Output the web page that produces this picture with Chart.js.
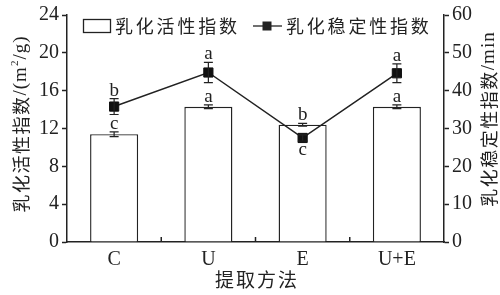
<!DOCTYPE html>
<html>
<head>
<meta charset="utf-8">
<script src="https://cdn.jsdelivr.net/npm/chart.js@4.4.1/dist/chart.umd.min.js"></script>
<style>
  html, body { margin: 0; padding: 0; background: #fff; }
  #wrap { width: 500px; height: 295px; }
</style>
</head>
<body>
<div id="wrap"><canvas id="chart"></canvas></div>
<script>
// --- data ---
const categories = ["C", "U", "E", "U+E"];
const activityIndex = [11.4, 14.3, 12.4, 14.3];      // m2/g, left axis
const activityErr = [0.25, 0.2, 0.15, 0.2];
const activityLetters = ["c", "a", "b", "a"];
const stabilityIndex = [35.8, 44.8, 27.5, 44.6];     // min, right axis
const stabilityErr = [2.1, 2.7, 0.8, 2.5];
const stabilityLetters = ["b", "a", "c", "a"];
const leftTicks = [0, 4, 8, 12, 16, 20, 24];
const rightTicks = [0, 10, 20, 30, 40, 50, 60];

const INK = "#222";
const SERIF = "'Liberation Serif', 'DejaVu Serif', serif";
const CJK = "'Noto Sans CJK SC', sans-serif";

// draw a run of text pieces with per-piece font and letter spacing
function drawRun(ctx, parts, x, y, center) {
    const widths = parts.map((p) => {
        ctx.font = p.font;
        let w = 0;
        for (const ch of p.text) {
            w += ctx.measureText(ch).width + (p.spacing || 0);
        }
        return w;
    });
    const total = widths.reduce((a, b) => a + b, 0);
    let cx = center ? x - total / 2 : x;
    parts.forEach((p) => {
        ctx.font = p.font;
        for (const ch of p.text) {
            ctx.fillText(ch, cx, y + (p.dy || 0));
            cx += ctx.measureText(ch).width + (p.spacing || 0);
        }
    });
}

const extrasPlugin = {
    id: "extras",
    afterDatasetsDraw(chart) {
        const { ctx, chartArea, scales } = chart;
        const x = scales.x;
        const yL = scales.y;
        const yR = scales.y1;
        const barMeta = chart.getDatasetMeta(0);
        const lineMeta = chart.getDatasetMeta(1);
        ctx.save();
        ctx.strokeStyle = INK;
        ctx.fillStyle = INK;
        ctx.lineWidth = 1.2;

        const errBar = (px, scale, v, e, cap) => {
            const t = scale.getPixelForValue(v + e);
            const b = scale.getPixelForValue(v - e);
            ctx.beginPath();
            ctx.moveTo(px, t); ctx.lineTo(px, b);
            ctx.moveTo(px - cap, t); ctx.lineTo(px + cap, t);
            ctx.moveTo(px - cap, b); ctx.lineTo(px + cap, b);
            ctx.stroke();
            return { t, b };
        };

        // error bars and significance letters
        ctx.font = "19px " + SERIF;
        ctx.textAlign = "center";
        ctx.textBaseline = "alphabetic";
        categories.forEach((c, i) => {
            const bx = barMeta.data[i].x;
            const eb = errBar(bx, yL, activityIndex[i], activityErr[i], 4.5);
            ctx.fillText(activityLetters[i], bx, eb.t - 3);

            const lx = lineMeta.data[i].x;
            const el = errBar(lx, yR, stabilityIndex[i], stabilityErr[i], 4.5);
            if (i === 2) {
                ctx.fillText(stabilityLetters[i], lx, lineMeta.data[i].y + 17);
            } else {
                ctx.fillText(stabilityLetters[i], lx, el.t - 3);
            }
        });

        // inner ticks on the category axis, at category boundaries
        ctx.lineWidth = 1.5;
        ctx.beginPath();
        for (let i = 0; i < categories.length - 1; i++) {
            const px = (x.getPixelForValue(i) + x.getPixelForValue(i + 1)) / 2;
            ctx.moveTo(px, chartArea.bottom);
            ctx.lineTo(px, chartArea.bottom - 5);
        }
        ctx.stroke();

        // legend
        ctx.lineWidth = 1.3;
        ctx.fillStyle = "#fff";
        ctx.fillRect(83.5, 19.5, 27, 13);
        ctx.strokeRect(83.5, 19.5, 27, 13);
        ctx.fillStyle = INK;
        ctx.textAlign = "left";
        ctx.textBaseline = "middle";
        drawRun(ctx, [{ text: "乳化活性指数", font: "18px " + CJK, spacing: 2.8 }], 115, 26, false);
        ctx.beginPath();
        ctx.moveTo(253, 26); ctx.lineTo(282, 26);
        ctx.stroke();
        ctx.fillRect(262.5, 21.5, 9, 9);
        drawRun(ctx, [{ text: "乳化稳定性指数", font: "18px " + CJK, spacing: 2.8 }], 286, 26, false);

        // axis titles
        ctx.save();
        ctx.translate(21, 124);
        ctx.rotate(-Math.PI / 2);
        drawRun(ctx, [
            { text: "乳化活性指数", font: "18px " + CJK, spacing: 1.5 },
            { text: "/(m", font: "19px " + SERIF, spacing: 1 },
            { text: "2", font: "11px " + SERIF, spacing: 1, dy: -6 },
            { text: "/g)", font: "19px " + SERIF, spacing: 1 },
        ], 0, 0, true);
        ctx.restore();

        ctx.save();
        ctx.translate(489, 119);
        ctx.rotate(-Math.PI / 2);
        drawRun(ctx, [
            { text: "乳化稳定性指数", font: "18px " + CJK, spacing: 1.5 },
            { text: "/min", font: "19px " + SERIF, spacing: 1 },
        ], 0, 0, true);
        ctx.restore();

        drawRun(ctx, [{ text: "提取方法", font: "19px " + CJK, spacing: 2 }], 257, 280, true);
        ctx.restore();
    },
};

const axisStyle = {
    grid: { drawOnChartArea: false, tickLength: 5, color: INK, tickWidth: 1.5 },
    border: { display: true, color: INK, width: 1.5 },
};

new Chart(document.getElementById("chart"), {
    data: {
        labels: categories,
        datasets: [
            {
                type: "bar",
                label: "乳化活性指数",
                data: activityIndex,
                yAxisID: "y",
                backgroundColor: "#fff",
                borderColor: INK,
                borderWidth: 1.4,
                barPercentage: 0.51,
                categoryPercentage: 1,
                order: 1,
            },
            {
                type: "line",
                label: "乳化稳定性指数",
                data: stabilityIndex,
                yAxisID: "y1",
                borderColor: INK,
                borderWidth: 1.5,
                pointStyle: "rect",
                pointRadius: 6.5,
                pointBackgroundColor: "#111",
                pointBorderColor: "#111",
                pointBorderWidth: 1,
                tension: 0,
                order: 0,
            },
        ],
    },
    options: {
        responsive: true,
        maintainAspectRatio: false,
        animation: false,
        layout: { padding: { top: 15, left: 0, right: 0, bottom: 0 } },
        plugins: { legend: { display: false }, tooltip: { enabled: false } },
        scales: {
            x: {
                grid: { display: false, drawTicks: false },
                border: { display: true, color: INK, width: 1.5 },
                ticks: { color: INK, font: { family: SERIF, size: 20 }, padding: 6 },
                afterFit: (s) => { s.height = 53; },
            },
            y: {
                position: "left",
                min: 0,
                max: 24,
                afterBuildTicks: (s) => { s.ticks = leftTicks.map((v) => ({ value: v })); },
                ticks: { color: INK, font: { family: SERIF, size: 20 }, padding: 3 },
                afterFit: (s) => { s.width = 67; },
                ...axisStyle,
            },
            y1: {
                position: "right",
                min: 0,
                max: 60,
                afterBuildTicks: (s) => { s.ticks = rightTicks.map((v) => ({ value: v })); },
                ticks: { color: INK, font: { family: SERIF, size: 20 }, padding: 3 },
                afterFit: (s) => { s.width = 56; },
                ...axisStyle,
            },
        },
    },
    plugins: [extrasPlugin],
});
</script>
</body>
</html>
